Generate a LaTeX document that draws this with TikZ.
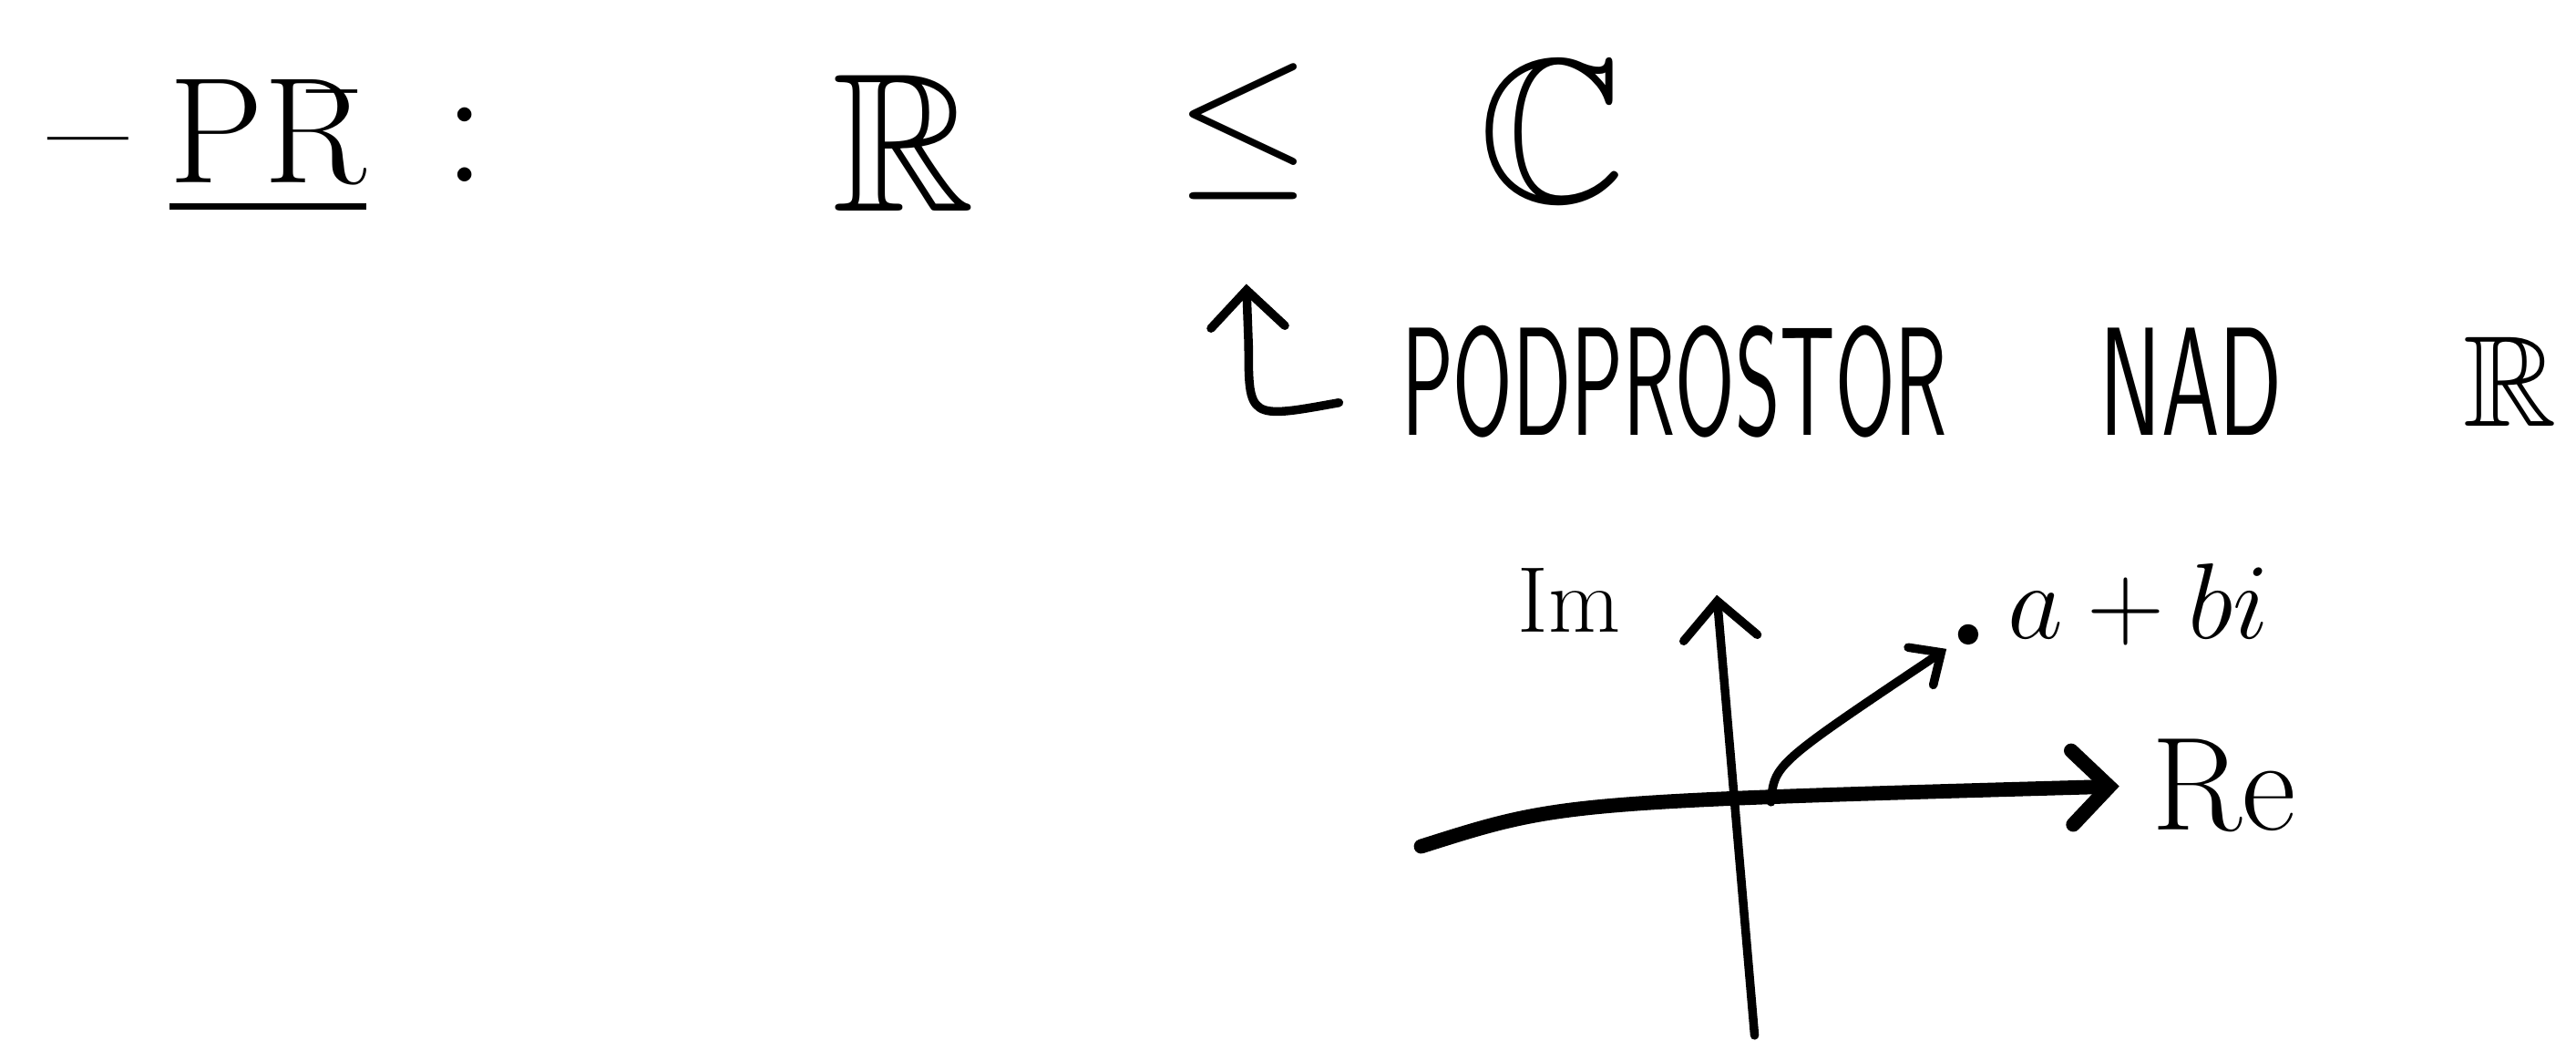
\documentclass[tikz,border=0pt]{standalone}
\usepackage{amssymb}
\usetikzlibrary{arrows.meta}
\begin{document}
\begin{tikzpicture}[x=0.02cm,y=-0.02cm,line width=3pt,line cap=round,
  every node/.style={font=\Huge,inner sep=0pt},
  barb/.style={-{Straight Barb[length=0.45cm,width=0.9cm,line cap=round]}},
  small barb/.style={-{Straight Barb[length=0.3cm,width=0.55cm,line cap=round]}},
  note/.style={font=\Huge\sffamily,anchor=west,yscale=2.15}]
\useasboundingbox (0,0) rectangle (1568,633);
% heading: R subset of C
\node[scale=2.4] (dash) at (54,98) {--};
\node[scale=2.1] (pr) at (163,90) {\underline{P\=R}};
\node[scale=2.4] (colon) at (283,88) {:};
\node[scale=2.75] (reals) at (550,87) {$\mathbb{R}$};
\node[scale=2.45] (leq) at (757,80) {$\leq$};
\node[scale=2.85] (cplx) at (945,80) {$\mathbb{C}$};
% note under the subset sign
\node[note,xscale=1.2] (pod) at (850,232) {PODPROSTOR};
\node[note,xscale=1.29] (nad) at (1275,232) {NAD};
\node[anchor=west,scale=1.8] (reals2) at (1495,232) {$\mathbb{R}$};
\coordinate (hook) at (815,245);
\draw[barb,shorten >=0.9cm] (hook) .. controls (760,255) .. (760,210) -- (leq.south);
% complex plane
\coordinate (xstart) at (865,515);
\coordinate (ybot) at (1068,630);
\coordinate (ytop) at (1045,362);
\coordinate (o) at (1078,488);
\node[scale=1.85,anchor=west] (re) at (1305,478) {Re};
\node[scale=1.3] (im) at (955,365) {Im};
\node[circle,fill,inner sep=2.5pt] (z) at (1198,386) {};
\node[scale=1.5,anchor=west] (zlab) at (1218,368) {$a+bi$};
\draw[barb,line width=5pt,shorten >=0.3cm] (xstart) .. controls (950,488) .. (re.west);
\draw[barb] (ybot) -- (ytop);
\draw[small barb,shorten >=4pt] (o) .. controls (1080,465) .. (z);
\end{tikzpicture}
\end{document}
